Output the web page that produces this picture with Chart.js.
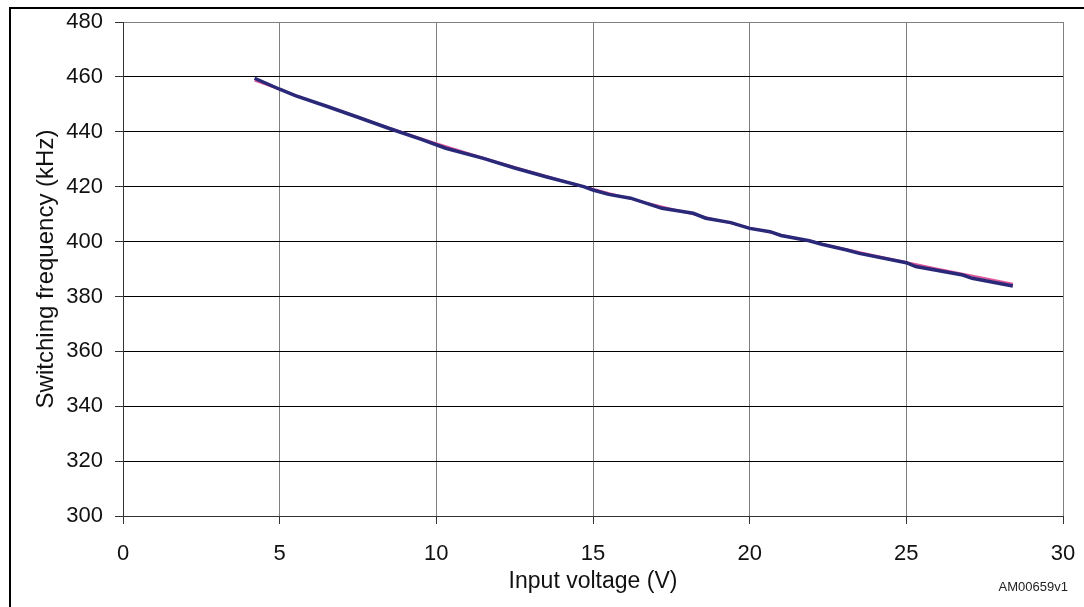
<!DOCTYPE html>
<html>
<head>
<meta charset="utf-8">
<script src="https://cdn.jsdelivr.net/npm/chart.js@4/dist/chart.umd.min.js"></script>
<style>
  html, body { margin: 0; padding: 0; background: #fff; }
  #wrap { width: 1084px; height: 607px; position: relative; }
</style>
</head>
<body>
<div id="wrap"><canvas id="freqChart" width="1084" height="607"></canvas></div>
<script>
// measured curve (input voltage in V, frequency in kHz)
const measVin = [4.2, 5.0, 5.5, 6.5, 7.5, 8.5, 9.5, 10.3, 11.5, 12.5, 13.5, 14.7, 15.0, 15.5, 16.2,
  17.2, 18.2, 18.6, 19.4, 20.0, 20.65, 21.0, 21.9, 22.3, 23.1, 23.5, 25.0, 25.3, 26.8, 27.1, 28.4];
const measFsw = [459.5, 455.5, 453.2, 449.3, 445.3, 441.2, 437.3, 434.0, 430.3, 426.8, 423.6, 420.0, 418.8, 417.2, 415.8,
  412.1, 410.3, 408.5, 406.9, 404.8, 403.6, 402.2, 400.3, 399.0, 396.9, 395.7, 392.3, 390.9, 387.8, 386.6, 383.8];

// smooth trend curve
const trendVin = [4.2, 6, 8, 10, 12, 14, 16, 18, 20, 22, 24, 26, 28.4];
const trendFsw = [458.7, 451.3, 443.4, 435.8, 428.8, 422.3, 416.2, 410.5, 405.0, 399.9, 394.9, 390.1, 384.6];

const xTicks = [0, 5, 10, 15, 20, 25, 30];
const yTicks = [300, 320, 340, 360, 380, 400, 420, 440, 460, 480];

const xTitle = 'Input voltage (V)';
const yTitle = 'Switching frequency (kHz)';
const figCode = 'AM00659v1';

const FONT = "'Liberation Sans', Arial, sans-serif";

function toPoints(xs, ys) {
  return xs.map((x, i) => ({ x: x, y: ys[i] }));
}

// outer frame lines and the figure code
const framePlugin = {
  id: 'frame',
  afterDraw(chart) {
    const c = chart.ctx;
    c.save();
    c.fillStyle = '#000';
    c.fillRect(10, 7, 1074, 2);
    c.fillRect(9, 7, 2, 600);
    c.font = "13px " + FONT;
    c.fillStyle = '#222';
    c.textAlign = 'right';
    c.textBaseline = 'middle';
    c.fillText(figCode, 1068, 587);
    c.restore();
  }
};

new Chart(document.getElementById('freqChart').getContext('2d'), {
  type: 'line',
  data: {
    datasets: [{
      label: 'measured',
      data: toPoints(measVin, measFsw),
      borderColor: '#2a2878',
      borderWidth: 3.5,
      pointRadius: 0,
      fill: false,
      tension: 0
    }, {
      label: 'trend',
      data: toPoints(trendVin, trendFsw),
      borderColor: '#e0569a',
      borderWidth: 2,
      pointRadius: 0,
      fill: false,
      cubicInterpolationMode: 'monotone'
    }]
  },
  options: {
    responsive: false,
    animation: false,
    events: [],
    layout: { padding: { left: 0, top: 22, right: 21, bottom: 0 } },
    plugins: {
      legend: { display: false },
      tooltip: { enabled: false }
    },
    scales: {
      x: {
        type: 'linear',
        min: 0,
        max: 30,
        afterBuildTicks: (s) => { s.ticks = xTicks.map(v => ({ value: v })); },
        afterFit: (s) => {
          s.height = 91;
          s.paddingLeft = 0;
          s.paddingRight = 0;
        },
        grid: {
          color: '#808080',
          tickColor: '#333',
          lineWidth: 1,
          tickLength: 8
        },
        border: { color: '#333' },
        ticks: {
          font: { family: FONT, size: 22 },
          color: '#111',
          padding: 17,
          maxRotation: 0
        },
        title: {
          display: true,
          text: xTitle,
          font: { family: FONT, size: 23 },
          color: '#111',
          padding: { top: 0, bottom: 12 }
        }
      },
      y: {
        type: 'linear',
        min: 300,
        max: 480,
        afterBuildTicks: (s) => { s.ticks = yTicks.map(v => ({ value: v })); },
        afterFit: (s) => {
          s.width = 123;
          s.paddingTop = 0;
          s.paddingBottom = 0;
        },
        grid: {
          color: (ctx) => ctx.tick && ctx.tick.value === 480 ? '#808080' : '#000',
          tickColor: '#333',
          lineWidth: 1,
          tickLength: 8
        },
        border: { color: '#333' },
        ticks: {
          font: { family: FONT, size: 22 },
          color: '#111',
          padding: 12
        },
        title: {
          display: true,
          text: yTitle,
          font: { family: FONT, size: 24 },
          color: '#111',
          padding: { top: 32, bottom: 0 }
        }
      }
    }
  },
  plugins: [framePlugin]
});
</script>
</body>
</html>
